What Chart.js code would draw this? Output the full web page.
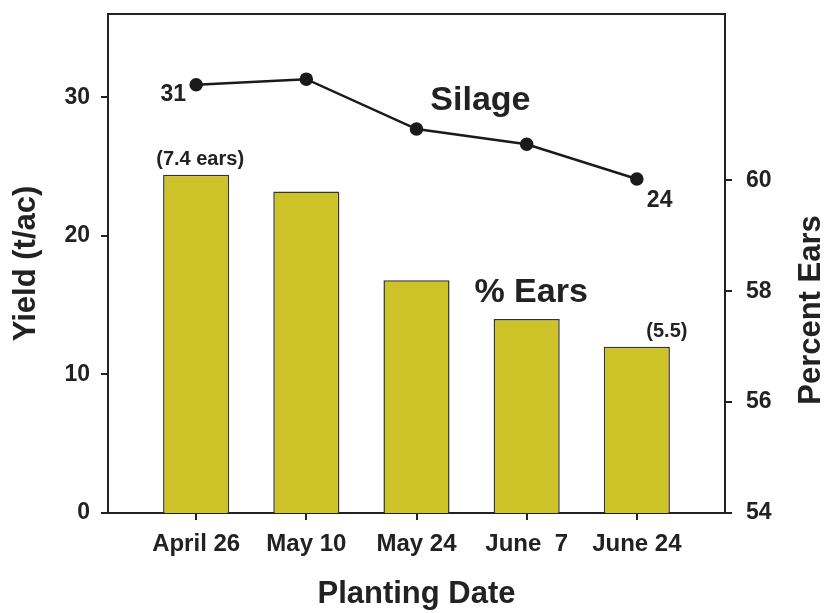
<!DOCTYPE html>
<html>
<head>
<meta charset="utf-8">
<script src="https://cdn.jsdelivr.net/npm/chart.js@4.4.1/dist/chart.umd.min.js"></script>
<style>
  html, body { margin: 0; padding: 0; background: #fff; }
  #wrap { width: 827px; height: 613px; }
</style>
</head>
<body>
<div id="wrap"><canvas id="yieldChart"></canvas></div>
<script>
const plantingDates = ['April 26', 'May 10', 'May 24', 'June  7', 'June 24'];
const silageYield = [30.9, 31.3, 27.7, 26.6, 24.1];   // t/ac (left axis)
const percentEars = [60.1, 59.8, 58.2, 57.5, 57.0];   // % ears (right axis)
const earCounts = ['(7.4 ears)', null, null, null, '(5.5)'];
const yieldTicks = [0, 10, 20, 30];
const earsTicks = [54, 56, 58, 60];

const ink = '#222';
const tickFont = { family: 'Arial', size: 23, weight: 'bold' };
const titleFont = { family: 'Arial', size: 31, weight: 'bold' };

// top border, right-axis title and the text labels inside the plot
const annotations = {
    id: 'annotations',
    afterDatasetsDraw(chart) {
        const { ctx, chartArea } = chart;
        const xs = chart.scales.x, yl = chart.scales.y, yr = chart.scales.y1;
        ctx.save();

        ctx.strokeStyle = ink;
        ctx.lineWidth = 2;
        ctx.beginPath();
        ctx.moveTo(chartArea.left, chartArea.top);
        ctx.lineTo(chartArea.right, chartArea.top);
        ctx.stroke();

        ctx.fillStyle = ink;
        ctx.font = 'bold 23px Arial';
        ctx.textBaseline = 'alphabetic';
        ctx.textAlign = 'right';
        ctx.fillText(Math.round(silageYield[0]), xs.getPixelForValue(0) - 10, yl.getPixelForValue(silageYield[0]) + 16);
        const last = silageYield.length - 1;
        ctx.textAlign = 'left';
        ctx.fillText(Math.round(silageYield[last]), xs.getPixelForValue(last) + 10, yl.getPixelForValue(silageYield[last]) + 28);

        ctx.font = 'bold 34px Arial';
        ctx.textAlign = 'center';
        ctx.fillText('Silage', xs.getPixelForValue(2.58), yl.getPixelForValue(29.1));
        ctx.fillText('% Ears', xs.getPixelForValue(3.04), yr.getPixelForValue(57.8));

        ctx.font = 'bold 20px Arial';
        earCounts.forEach((txt, i) => {
            if (!txt) return;
            const dx = i === 0 ? 4 : 30;
            ctx.fillText(txt, xs.getPixelForValue(i) + dx, yr.getPixelForValue(percentEars[i]) - 10);
        });

        // right axis title reads bottom-to-top
        ctx.font = 'bold 31px Arial';
        ctx.textBaseline = 'middle';
        ctx.translate(811, 310);
        ctx.rotate(-Math.PI / 2);
        ctx.fillText('Percent Ears', 0, 0);
        ctx.restore();
    }
};

const fitY = (width) => (s) => {
    s.width = width;
    s.paddingTop = 0;
    s.paddingBottom = 0;
};

const ctx = document.getElementById('yieldChart').getContext('2d');
new Chart(ctx, {
    type: 'bar',
    data: {
        datasets: [
            {
                type: 'line',
                label: 'Silage',
                data: silageYield.map((v, i) => ({ x: i, y: v })),
                yAxisID: 'y',
                borderColor: '#1a1a1a',
                borderWidth: 2.5,
                pointBackgroundColor: '#1a1a1a',
                pointBorderColor: '#1a1a1a',
                pointRadius: 5.5,
                tension: 0
            },
            {
                type: 'bar',
                label: '% Ears',
                data: percentEars.map((v, i) => ({ x: i, y: v })),
                yAxisID: 'y1',
                backgroundColor: '#cdc329',
                borderColor: '#333',
                borderWidth: 1.5,
                borderSkipped: false,
                categoryPercentage: 1,
                barPercentage: 0.6
            }
        ]
    },
    options: {
        responsive: true,
        maintainAspectRatio: false,
        animation: false,
        layout: { padding: { top: 14, left: 0, right: 0, bottom: 0 } },
        plugins: { legend: { display: false }, tooltip: { enabled: false } },
        scales: {
            x: {
                type: 'linear',
                min: -0.8,
                max: 4.8,
                offset: false,
                afterFit: (s) => { s.height = 100; s.paddingLeft = 0; s.paddingRight = 0; },
                afterBuildTicks: (s) => { s.ticks = plantingDates.map((_, i) => ({ value: i })); },
                ticks: {
                    autoSkip: false,
                    maxRotation: 0,
                    padding: 10,
                    color: ink,
                    font: { family: 'Arial', size: 24, weight: 'bold' },
                    callback: (v) => plantingDates[v]
                },
                grid: { offset: false, drawOnChartArea: false, drawTicks: true, tickLength: 7, color: ink, lineWidth: 2 },
                border: { display: true, color: ink, width: 2 },
                title: { display: true, text: 'Planting Date', color: ink, font: titleFont, padding: { top: 0, bottom: 0 } }
            },
            y: {
                position: 'left',
                min: 0,
                max: 36,
                afterFit: fitY(108),
                afterBuildTicks: (s) => { s.ticks = yieldTicks.map(v => ({ value: v })); },
                ticks: { padding: 11, color: ink, font: tickFont },
                grid: { drawOnChartArea: false, drawTicks: true, tickLength: 7, color: ink, lineWidth: 2 },
                border: { display: true, color: ink, width: 2 },
                title: { display: true, text: 'Yield (t/ac)', color: ink, font: titleFont, padding: { top: 8, bottom: 0 } }
            },
            y1: {
                position: 'right',
                min: 54,
                max: 63,
                afterFit: fitY(102),
                afterBuildTicks: (s) => { s.ticks = earsTicks.map(v => ({ value: v })); },
                ticks: { padding: 14, color: ink, font: tickFont },
                grid: { drawOnChartArea: false, drawTicks: true, tickLength: 7, color: ink, lineWidth: 2 },
                border: { display: true, color: ink, width: 2 }
            }
        }
    },
    plugins: [annotations]
});
</script>
</body>
</html>
